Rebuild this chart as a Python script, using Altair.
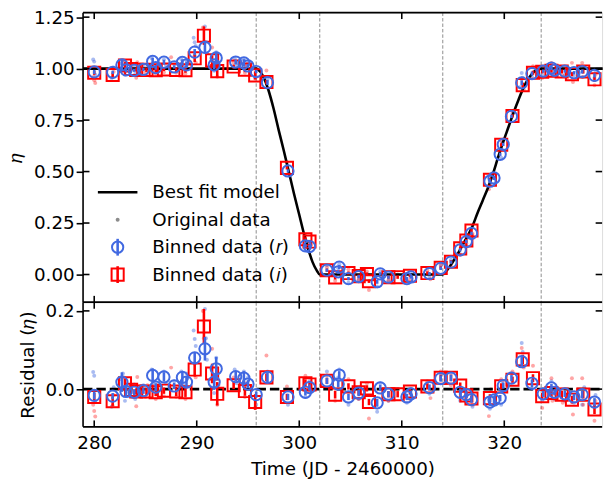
import altair as alt
import pandas as pd

# ---------------- data ----------------
MODEL_T = [278.9, 295.8, 296.2, 296.6, 297.0, 297.5, 298.0, 298.5, 299.0, 299.5, 300.0,
           300.5, 300.9, 301.3, 301.7, 302.0, 314.0, 314.4, 314.9, 315.4, 315.9, 316.4,
           316.9, 317.4, 317.9, 318.4, 318.9, 319.4, 319.9, 320.4, 320.9, 321.4, 321.9,
           322.4, 322.9, 323.6, 329.6]
MODEL_ETA = [1.0, 1.0, 0.985, 0.95, 0.895, 0.805, 0.70, 0.60, 0.495, 0.39, 0.29,
             0.19, 0.12, 0.06, 0.02, 0.0, 0.0, 0.02, 0.055, 0.095, 0.14, 0.185,
             0.235, 0.30, 0.36, 0.42, 0.49, 0.57, 0.645, 0.715, 0.785, 0.85, 0.91,
             0.955, 0.985, 1.0, 1.0]

# binned data, r band
R_T = [280.0, 281.8, 282.7, 283.1, 283.9, 284.8, 285.7, 286.0, 286.8, 287.8, 288.6, 289.0,
       289.8, 290.8, 291.7, 291.9, 293.8, 294.6, 295.0, 295.8, 296.9, 298.9, 300.6, 301.0,
       302.7, 303.8, 303.9, 304.8, 305.8, 307.6, 307.9, 308.7, 310.5, 310.9, 312.7, 313.8,
       314.8, 315.7, 316.3, 316.8, 318.6, 319.0, 319.6, 319.9, 320.7, 321.7, 322.7, 323.8,
       324.6, 324.9, 325.9, 326.8, 327.6, 328.8]
R_ETA = [0.984, 0.982, 1.018, 0.994, 0.992, 0.996, 1.035, 1.005, 1.031, 1.008, 1.030, 1.018,
         1.080, 1.103, 1.018, 1.052, 1.032, 1.028, 1.013, 0.986, 0.932, 0.503, 0.139, 0.136,
         0.021, 0.013, 0.036, -0.020, -0.010, -0.035, 0.003, -0.013, -0.020, -0.012, 0.004, 0.030,
         0.060, 0.120, 0.160, 0.200, 0.453, 0.469, 0.584, 0.632, 0.768, 0.931, 0.976, 0.988,
         1.003, 0.992, 0.988, 0.980, 0.986, 0.967]
R_RES = [-0.016, -0.018, 0.018, -0.006, -0.008, -0.004, 0.035, 0.005, 0.031, 0.008, 0.030, 0.018,
         0.080, 0.103, 0.018, 0.052, 0.032, 0.028, 0.013, -0.014, 0.030, -0.020, -0.008, 0.004,
         0.021, 0.013, 0.036, -0.020, -0.010, -0.035, 0.003, -0.013, -0.020, -0.012, 0.004, 0.027,
         0.028, -0.008, -0.014, -0.027, -0.033, -0.028, -0.023, 0.009, 0.028, 0.070, 0.015, -0.012,
         0.003, -0.008, -0.012, -0.020, -0.014, -0.033]
R_ERR = [0.010, 0.008, 0.025, 0.012, 0.008, 0.008, 0.018, 0.010, 0.012, 0.008, 0.015, 0.015,
         0.015, 0.030, 0.020, 0.030, 0.012, 0.018, 0.010, 0.008, 0.012, 0.008, 0.008, 0.008,
         0.008, 0.008, 0.010, 0.008, 0.008, 0.010, 0.008, 0.008, 0.008, 0.008, 0.008, 0.008,
         0.008, 0.008, 0.008, 0.008, 0.010, 0.010, 0.008, 0.008, 0.008, 0.012, 0.010, 0.008,
         0.010, 0.008, 0.008, 0.008, 0.010, 0.010]

# binned data, i band
I_T = [280.0, 281.8, 283.0, 283.6, 284.1, 285.1, 286.0, 286.8, 288.0, 288.9, 289.8, 290.7,
       291.5, 292.0, 293.6, 294.7, 295.7, 296.8, 298.8, 300.6, 301.0, 302.7, 303.5, 304.8,
       305.8, 306.6, 306.8, 308.7, 309.6, 310.8, 312.5, 313.8, 314.8, 315.7, 316.3, 316.8,
       318.6, 319.7, 320.8, 321.8, 322.8, 323.7, 324.6, 325.6, 326.6, 327.7, 328.8]
I_ETA = [0.980, 0.969, 1.015, 0.998, 0.994, 0.994, 0.992, 0.996, 0.994, 0.992, 1.050, 1.160,
         1.040, 0.988, 1.010, 0.995, 0.967, 0.935, 0.518, 0.171, 0.160, 0.021, -0.014, 0.007,
         -0.008, 0.002, -0.033, -0.013, -0.013, -0.006, 0.007, 0.032, 0.062, 0.127, 0.165, 0.214,
         0.460, 0.630, 0.770, 0.920, 0.980, 0.985, 0.990, 0.986, 0.973, 0.986, 0.948]
I_RES = [-0.020, -0.031, 0.015, -0.002, -0.006, -0.006, -0.008, -0.004, -0.006, -0.008, 0.050, 0.160,
         0.040, -0.012, 0.010, -0.005, -0.033, 0.030, -0.020, 0.015, 0.012, 0.021, -0.014, 0.007,
         -0.008, 0.002, -0.033, -0.013, -0.013, -0.006, 0.007, 0.029, 0.029, 0.009, -0.016, -0.024,
         -0.023, 0.007, 0.024, 0.076, 0.028, -0.018, -0.010, -0.014, -0.027, -0.014, -0.052]
I_ERR = [0.010, 0.012, 0.012, 0.010, 0.008, 0.010, 0.010, 0.008, 0.012, 0.012, 0.018, 0.045,
         0.025, 0.030, 0.010, 0.012, 0.020, 0.010, 0.008, 0.010, 0.008, 0.008, 0.010, 0.008,
         0.008, 0.008, 0.008, 0.008, 0.008, 0.008, 0.008, 0.008, 0.008, 0.008, 0.008, 0.008,
         0.010, 0.008, 0.008, 0.012, 0.010, 0.008, 0.010, 0.010, 0.010, 0.010, 0.012]

# original (unbinned) data, r band
RDOT_T = [279.9, 280.0, 280.1, 281.7, 281.9, 282.5, 282.8, 283.0, 283.9, 284.0, 284.8, 285.6,
          285.8, 286.1, 286.8, 287.0, 287.8, 288.5, 288.7, 289.0, 289.7, 289.8, 289.9, 290.8,
          290.9, 291.0, 291.7, 291.9, 293.7, 293.9, 294.6, 294.8, 295.0, 295.8, 296.9, 298.9,
          300.6, 301.0, 302.7, 303.8, 303.9, 304.8, 305.8, 307.6, 307.9, 308.7, 310.5, 310.9,
          312.7, 313.8, 314.8, 315.7, 316.3, 316.9, 318.6, 319.0, 319.7, 319.8, 320.8, 321.5,
          321.7, 321.8, 322.7, 323.7, 324.6, 324.9, 325.9, 326.8, 327.6, 327.8, 328.8, 328.9]
RDOT_ETA = [1.044, 1.034, 0.970, 0.955, 1.005, 1.025, 1.040, 0.970, 1.012, 0.975, 1.010, 1.050,
            1.015, 0.988, 1.045, 1.015, 1.020, 1.045, 1.010, 1.040, 1.150, 1.128, 1.110, 1.205,
            1.130, 1.075, 0.990, 1.080, 1.050, 1.015, 1.045, 1.010, 1.030, 0.960, 0.947, 0.483,
            0.127, 0.152, 0.045, 0.030, 0.050, -0.040, -0.025, -0.058, 0.015, -0.030, -0.035, 0.000,
            -0.012, 0.043, 0.072, 0.098, 0.139, 0.182, 0.436, 0.487, 0.567, 0.643, 0.780, 0.910,
            0.979, 0.956, 0.961, 0.970, 1.020, 0.975, 0.970, 0.965, 0.960, 1.005, 0.955, 0.985]
RDOT_RES = [0.044, 0.034, -0.030, -0.045, 0.005, 0.025, 0.040, -0.030, 0.012, -0.025, 0.010, 0.050,
            0.015, -0.012, 0.045, 0.015, 0.020, 0.045, 0.010, 0.040, 0.150, 0.128, 0.110, 0.205,
            0.130, 0.075, -0.010, 0.080, 0.050, 0.015, 0.045, 0.010, 0.030, -0.040, 0.045, -0.040,
            -0.020, 0.020, 0.045, 0.030, 0.050, -0.040, -0.025, -0.058, 0.015, -0.030, -0.035, 0.000,
            -0.012, 0.040, 0.040, -0.030, -0.035, -0.045, -0.050, -0.010, -0.040, 0.020, 0.040, 0.060,
            0.118, 0.095, 0.000, -0.030, 0.020, -0.025, -0.030, -0.035, -0.040, 0.005, -0.045, -0.015]

# original (unbinned) data, i band
IDOT_T = [279.9, 280.0, 280.1, 281.8, 281.9, 282.9, 283.1, 283.6, 284.1, 284.2, 285.0, 285.2,
          286.0, 286.1, 286.8, 287.5, 288.0, 288.9, 289.0, 289.8, 289.9, 290.6, 290.7, 291.5,
          291.6, 292.0, 292.1, 293.6, 294.7, 294.8, 295.7, 296.8, 298.8, 300.6, 301.0, 302.7,
          303.5, 304.8, 305.8, 306.6, 306.8, 308.7, 309.6, 310.8, 312.5, 312.8, 313.8, 314.8,
          315.7, 316.3, 316.9, 318.5, 318.7, 319.7, 320.8, 321.7, 321.9, 322.8, 323.7, 324.6,
          324.7, 325.6, 325.7, 326.6, 326.7, 327.6, 327.7, 328.8, 328.9]
IDOT_ETA = [0.960, 0.944, 0.930, 0.958, 0.985, 1.030, 1.000, 1.010, 0.956, 1.031, 0.980, 1.010,
            0.975, 1.010, 0.982, 1.055, 0.980, 0.975, 1.005, 1.065, 1.030, 1.200, 1.130, 1.103,
            1.020, 0.960, 1.010, 1.030, 0.980, 1.015, 0.952, 0.991, 0.545, 0.190, 0.143, 0.035,
            -0.030, 0.025, -0.025, 0.015, -0.075, -0.030, 0.000, -0.025, 0.020, -0.023, 0.048, 0.043,
            0.095, 0.151, 0.198, 0.414, 0.483, 0.648, 0.791, 0.949, 0.899, 1.012, 0.955, 1.028,
            0.970, 1.000, 0.965, 1.028, 0.935, 1.028, 0.960, 0.919, 0.970]
IDOT_RES = [-0.040, -0.056, -0.070, -0.042, -0.015, 0.030, 0.000, 0.010, -0.044, 0.031, -0.020, 0.010,
            -0.025, 0.010, -0.018, 0.055, -0.020, -0.025, 0.005, 0.065, 0.030, 0.200, 0.130, 0.103,
            0.020, -0.040, 0.010, 0.030, -0.020, 0.015, -0.048, 0.086, 0.007, 0.034, -0.005, 0.035,
            -0.030, 0.025, -0.025, 0.015, -0.075, -0.030, 0.000, -0.025, 0.020, -0.023, 0.045, 0.010,
            -0.023, -0.030, -0.040, -0.069, 0.000, 0.025, 0.045, 0.105, 0.055, 0.060, -0.048, 0.028,
            -0.030, 0.000, -0.035, 0.028, -0.065, 0.028, -0.040, -0.081, -0.030]

CONTACT_T = [295.8, 302.0, 314.0, 323.6]
X_TICKS = [280, 290, 300, 310, 320]
ETA_TICKS = [0.0, 0.25, 0.5, 0.75, 1.0, 1.25]
RES_TICKS = [0.0, 0.2]
LEGEND_LABELS = ["Best fit model", "Original data", "Binned data (𝑟)", "Binned data (𝑖)"]
X_TITLE = "Time (JD - 2460000)"
ETA_TITLE = "𝜂"
RES_TITLE = "Residual (𝜂)"

# ---------------- styling ----------------
FONT = "DejaVu Sans"
FS = 18.5
W, H_TOP, H_RES = 525, 293, 126
BLUE = "#4169E1"
RED = "#FF0000"
SW = 1.6      # spine / tick width
TL = 6.5      # inward tick length

xs = alt.Scale(domain=[278.91, 329.54], nice=False, zero=False)
ys_top = alt.Scale(domain=[-0.135, 1.272], nice=False, zero=False)
ys_res = alt.Scale(domain=[-0.0965, 0.222], nice=False, zero=False)

r_df = pd.DataFrame({"t": R_T, "eta": R_ETA, "res": R_RES, "err": R_ERR})
i_df = pd.DataFrame({"t": I_T, "eta": I_ETA, "res": I_RES, "err": I_ERR})
rdot_df = pd.DataFrame({"t": RDOT_T, "eta": RDOT_ETA, "res": RDOT_RES})
idot_df = pd.DataFrame({"t": IDOT_T, "eta": IDOT_ETA, "res": IDOT_RES})
model_df = pd.DataFrame({"t": MODEL_T, "eta": MODEL_ETA})
contact_df = pd.DataFrame({"t": CONTACT_T})
xt_df = pd.DataFrame({"v": X_TICKS})
one = pd.DataFrame({"k": [0]})


def yaxis(values, fmt, title):
    return alt.Axis(values=values, format=fmt, title=title, tickSize=7, tickWidth=SW,
                    tickColor="black", labelPadding=2, labelFontSize=FS, labelFont=FONT,
                    labelColor="black", titleFontSize=FS, titleFont=FONT,
                    titleFontWeight="normal", titleColor="black", titlePadding=8,
                    domain=False, grid=False)


def panel(h, yscale, yvals, yax, xax, yfield, dots_field, extra_front, extra_back):
    X = lambda f: alt.X(f"{f}:Q", scale=xs, axis=xax)
    Y = lambda f: alt.Y(f"{f}:Q", scale=yscale, axis=yax)
    yt_df = pd.DataFrame({"v": yvals})
    L = []
    # contact lines
    L.append(alt.Chart(contact_df).mark_rule(color="#808080", strokeWidth=0.9,
                                             strokeDash=[3.5, 2]).encode(x=X("t")))
    # original data
    L.append(alt.Chart(rdot_df).mark_circle(size=16, color=BLUE, opacity=0.45).encode(
        x=X("t"), y=Y(dots_field)))
    L.append(alt.Chart(idot_df).mark_circle(size=16, color=RED, opacity=0.35).encode(
        x=X("t"), y=Y(dots_field)))
    L += extra_back(X, Y)
    # binned data
    for df, color, shape, size in [(i_df, RED, "square", 150), (r_df, BLUE, "circle", 130)]:
        L.append(alt.Chart(df).transform_calculate(
            lo=f"datum.{yfield} - datum.err", hi=f"datum.{yfield} + datum.err")
            .mark_rule(color=color, strokeWidth=2.6)
            .encode(x=X("t"), y=Y("lo"), y2="hi:Q"))
        L.append(alt.Chart(df).mark_point(shape=shape, filled=False, size=size, strokeWidth=2,
                                          color=color, opacity=1)
                 .encode(x=X("t"), y=Y(yfield)))
    # inward ticks
    L.append(alt.Chart(xt_df).mark_rule(color="black", strokeWidth=SW).encode(
        x=X("v"), y=alt.value(0), y2=alt.value(TL)))
    L.append(alt.Chart(xt_df).mark_rule(color="black", strokeWidth=SW).encode(
        x=X("v"), y=alt.value(h - TL), y2=alt.value(h)))
    L.append(alt.Chart(yt_df).mark_rule(color="black", strokeWidth=SW).encode(
        y=Y("v"), x=alt.value(0), x2=alt.value(TL)))
    L.append(alt.Chart(yt_df).mark_rule(color="black", strokeWidth=SW).encode(
        y=Y("v"), x=alt.value(W - TL), x2=alt.value(W)))
    # spines (top, bottom, left)
    L.append(alt.Chart(one).mark_rule(color="black", strokeWidth=SW).encode(
        x=alt.value(0), x2=alt.value(W), y=alt.value(0)))
    L.append(alt.Chart(one).mark_rule(color="black", strokeWidth=SW).encode(
        x=alt.value(0), x2=alt.value(W), y=alt.value(h)))
    L.append(alt.Chart(one).mark_rule(color="black", strokeWidth=SW).encode(
        x=alt.value(0), y=alt.value(0), y2=alt.value(h)))
    L += extra_front(X, Y)
    return alt.layer(*L).properties(width=W, height=h)


# ---------------- top panel ----------------
def top_back(X, Y):
    return [alt.Chart(model_df).mark_line(color="black", strokeWidth=2.6,
                                          interpolate="monotone").encode(x=X("t"), y=Y("eta"))]


def top_front(X, Y):
    LX_SYM, LX_TXT = 35, 70
    ROWS = [181.7, 209.5, 237.3, 265.0]
    L = []
    L.append(alt.Chart(one).mark_rule(color="black", strokeWidth=2.6).encode(
        x=alt.value(15), x2=alt.value(55), y=alt.value(ROWS[0])))
    L.append(alt.Chart(one).mark_circle(size=16, color="#808080", opacity=0.9).encode(
        x=alt.value(LX_SYM), y=alt.value(ROWS[1])))
    L.append(alt.Chart(one).mark_rule(color=BLUE, strokeWidth=2.6).encode(
        x=alt.value(LX_SYM), y=alt.value(ROWS[2] - 8.5), y2=alt.value(ROWS[2] + 8.5)))
    L.append(alt.Chart(one).mark_point(shape="circle", filled=False, size=130, strokeWidth=2,
                                       color=BLUE, opacity=1).encode(
        x=alt.value(LX_SYM), y=alt.value(ROWS[2])))
    L.append(alt.Chart(one).mark_rule(color=RED, strokeWidth=2.6).encode(
        x=alt.value(LX_SYM), y=alt.value(ROWS[3] - 8.5), y2=alt.value(ROWS[3] + 8.5)))
    L.append(alt.Chart(one).mark_point(shape="square", filled=False, size=150, strokeWidth=2,
                                       color=RED, opacity=1).encode(
        x=alt.value(LX_SYM), y=alt.value(ROWS[3])))
    for lab, ry in zip(LEGEND_LABELS, ROWS):
        L.append(alt.Chart(one).mark_text(align="left", baseline="middle", font=FONT,
                                          fontSize=FS, color="black").encode(
            x=alt.value(LX_TXT), y=alt.value(ry), text=alt.value(lab)))
    return L


def res_back(X, Y):
    return [alt.Chart(pd.DataFrame({"z": [0.0]})).mark_rule(
        color="black", strokeWidth=2.6, strokeDash=[9.5, 4]).encode(
        y=Y("z"), x=alt.value(0), x2=alt.value(W))]


xaxis = alt.Axis(values=X_TICKS, format="d", title=X_TITLE, ticks=False, tickSize=0,
                 domain=False, grid=False, labelPadding=7, labelFontSize=FS, labelFont=FONT,
                 labelColor="black", labelFlush=False, titleFontSize=FS, titleFont=FONT,
                 titleFontWeight="normal", titleColor="black", titlePadding=8)

top = panel(H_TOP, ys_top, ETA_TICKS, yaxis(ETA_TICKS, ".2f", ETA_TITLE), None,
            "eta", "eta", top_front, top_back)
bottom = panel(H_RES, ys_res, RES_TICKS, yaxis(RES_TICKS, ".1f", RES_TITLE), xaxis,
               "res", "res", lambda X, Y: [], res_back)

chart = (
    alt.vconcat(top, bottom, spacing=0, bounds="flush")
    .properties(padding={"left": 6, "top": 5, "right": 0, "bottom": 0})
    .configure_view(stroke=None)
    .configure(font=FONT)
)

chart.save("out.html", embed_options={"renderer": "svg", "actions": False})
